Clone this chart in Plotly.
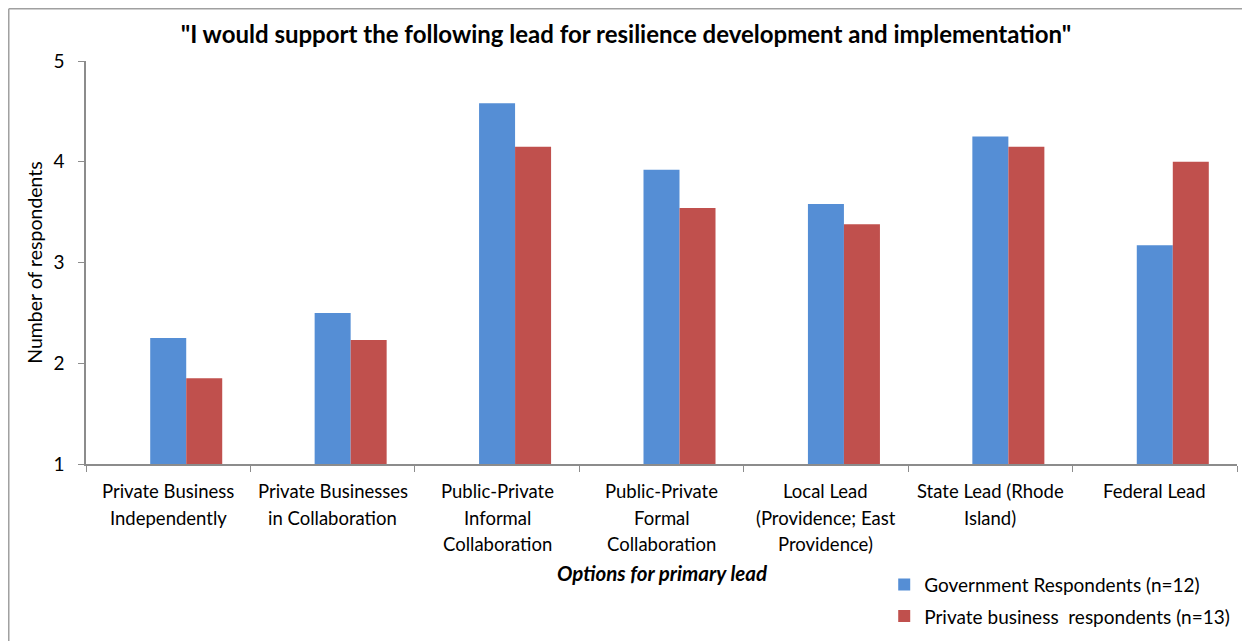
import plotly.graph_objects as go

categories = [
    "Private Business Independently",
    "Private Businesses in Collaboration",
    "Public-Private Informal Collaboration",
    "Public-Private Formal Collaboration",
    "Local Lead (Providence; East Providence)",
    "State Lead (Rhode Island)",
    "Federal Lead",
]
category_lines = [
    ["Private Business", "Independently"],
    ["Private Businesses", "in Collaboration"],
    ["Public-Private", "Informal", "Collaboration"],
    ["Public-Private", "Formal", "Collaboration"],
    ["Local Lead", "(Providence; East", "Providence)"],
    ["State Lead (Rhode", "Island)"],
    ["Federal Lead"],
]
government = [2.25, 2.50, 4.58, 3.92, 3.58, 4.25, 3.17]
private = [1.85, 2.23, 4.15, 3.54, 3.38, 4.15, 4.00]
series_names = ["Government Respondents (n=12)", "Private business  respondents (n=13)"]

FONT = "Lato, Carlito, Calibri, sans-serif"
AXIS_GRAY = "#8c8c8c"

fig = go.Figure()
bw = 36 / 164.4
fig.add_trace(go.Bar(x=categories, y=government, name=series_names[0],
                     marker=dict(color="#558ed5", line=dict(width=0)),
                     width=bw, offset=-bw / 2, legendgroup="g"))
fig.add_trace(go.Bar(x=categories, y=private, name=series_names[1],
                     marker=dict(color="#c0504d", line=dict(width=0)),
                     width=bw, offset=bw / 2, legendgroup="p"))

annotations = []
for cat, lines in zip(categories, category_lines):
    for j, line in enumerate(lines):
        annotations.append(dict(
            x=cat, xref="x", y=0, yref="paper", yanchor="middle",
            yshift=-(27 + 26.5 * j), text=line, showarrow=False,
            font=dict(family=FONT, size=18.5, color="#000000")))

annotations.append(dict(
    x=0.5, xref="paper", y=0, yref="paper", yanchor="middle", yshift=-109,
    text="<b><i>Options for primary lead</i></b>", showarrow=False,
    font=dict(family=FONT, size=20.5, color="#000000")))

fig.update_layout(
    width=1242, height=633,
    margin=dict(l=78, r=13, t=53, b=177, autoexpand=False),
    paper_bgcolor="white", plot_bgcolor="white",
    font=dict(family=FONT, color="#000000"),
    title=dict(text='<b>"I would support the following lead for resilience development and implementation"</b>',
               x=0.4975, xanchor="center", y=0.9575, yanchor="middle",
               font=dict(family=FONT, size=24, color="#000000")),
    showlegend=True,
    legend=dict(x=0.6935, xanchor="left", y=-0.252, yanchor="top",
                font=dict(family=FONT, size=19, color="#000000"),
                tracegroupgap=4, bgcolor="rgba(0,0,0,0)"),
    annotations=annotations,
    shapes=[
        dict(type="line", xref="paper", yref="paper", x0=-0.0671, x1=1.02,
             y0=1.1297, y1=1.1297, line=dict(color="#a0a0a0", width=1.5)),
        dict(type="line", xref="paper", yref="paper", x0=-0.0671, x1=-0.0671,
             y0=1.1297, y1=-0.5, line=dict(color="#a0a0a0", width=1.5)),
    ],
)
fig.update_xaxes(
    showline=True, linecolor=AXIS_GRAY, linewidth=1.5,
    ticks="outside", tickson="boundaries", ticklen=6, tickcolor=AXIS_GRAY,
    showticklabels=False, showgrid=False, zeroline=False,
)
fig.update_yaxes(
    range=[1, 5], dtick=1, showline=True, linecolor=AXIS_GRAY, linewidth=1.5,
    ticks="outside", ticklen=6, tickcolor=AXIS_GRAY, showgrid=False, zeroline=False,
    ticklabelstandoff=10,
    tickfont=dict(family=FONT, size=19, color="#000000"),
    title=dict(text="Number of respondents", standoff=6,
               font=dict(family=FONT, size=19.5, color="#000000")),
)

fig.write_html("out.html")
